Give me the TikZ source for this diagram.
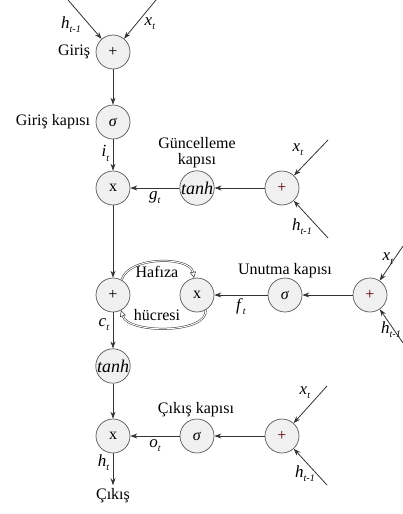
\documentclass[tikz,border=0pt]{standalone}
\usepackage{fontspec}
\setmainfont{Liberation Serif}
\usetikzlibrary{arrows.meta,positioning}

\newcommand{\sublab}[2]{{\fontsize{17}{18}\selectfont\textit{#1}}\raisebox{-0.55ex}{\fontsize{10}{10}\selectfont\textit{#2}}}

\begin{document}
\begin{tikzpicture}[x = 1pt, y = -1pt, font = \fontsize{16}{18}\selectfont,
  op/.style = {circle, draw = black!65, fill = black!6, line width = 0.7pt,
    minimum size = 34pt, inner sep = 0pt},
  sumop/.style = {op, text = red!35!black},
  flow/.style = {-{Stealth[length = 7pt, width = 5pt]}, draw = black!80, line width = 0.8pt},
  cellloop/.style = {-{Triangle[open, length = 6pt, width = 6pt]}, draw = black!80,
    double = white, double distance = 1pt, line width = 0.5pt}]
  \useasboundingbox (0,0) rectangle (403,514);
  % main column
  \node[op] (inplus) at (113,52) {+};
  \node[op] (ingate) at (113,122) {\textit{σ}};
  \node[op] (inmul) at (113,188) {x};
  \node[op] (cell) at (113,295) {+};
  \node[op, font = \fontsize{18}{18}\selectfont] (celltanh) at (113,366) {\textit{tanh}};
  \node[op] (outmul) at (113,436) {x};
  \node (out) at (113,496) {Çıkış};
  % gates
  \node[op, font = \fontsize{18}{18}\selectfont] (gtanh) at (197,188) {\textit{tanh}};
  \node[sumop] (gplus) at (282,188) {+};
  \node[op] (fmul) at (197,295) {x};
  \node[op] (fgate) at (285,295) {\textit{σ}};
  \node[sumop] (fplus) at (370,295) {+};
  \node[op] (ogate) at (197,436) {\textit{σ}};
  \node[sumop] (oplus) at (282,436) {+};
  % inputs
  \coordinate (inh) at (68,0);
  \coordinate (inx) at (156,0);
  \coordinate (gx) at (328,140);
  \coordinate (gh) at (328,238);
  \coordinate (fx) at (403,246);
  \coordinate (fh) at (403,343);
  \coordinate (ox) at (327,386);
  \coordinate (oh) at (327,485);
  \draw[flow] (inh) -- (inplus);
  \draw[flow] (inx) -- (inplus);
  \draw[flow] (gx) -- (gplus);
  \draw[flow] (gh) -- (gplus);
  \draw[flow] (fx) -- (fplus);
  \draw[flow] (fh) -- (fplus);
  \draw[flow] (ox) -- (oplus);
  \draw[flow] (oh) -- (oplus);
  \node at (71,25) {\sublab{h}{t-1}};
  \node at (150,24) {\sublab{x}{t}};
  \node at (298,150) {\sublab{x}{t}};
  \node at (302,227) {\sublab{h}{t-1}};
  \node at (388,259) {\sublab{x}{t}};
  \node at (391,330) {\sublab{h}{t-1}};
  \node at (305,393) {\sublab{x}{t}};
  \node at (305,474) {\sublab{h}{t-1}};
  % connections
  \draw[flow] (inplus) -- (ingate);
  \draw[flow] (ingate) -- node[left, pos = 0.45] {\sublab{i}{t}} (inmul);
  \draw[flow] (gplus) -- (gtanh);
  \draw[flow] (gtanh) -- node[below] {\sublab{g}{t}} (inmul);
  \draw[flow] (inmul) -- (cell);
  \draw[flow] (fplus) -- (fgate);
  \draw[flow] (fgate) -- node[below] {\sublab{f}{t}} (fmul);
  \draw[flow] (cell) -- node[left, pos = 0.35] {\sublab{c}{t}} (celltanh);
  \draw[flow] (celltanh) -- (outmul);
  \draw[flow] (oplus) -- (ogate);
  \draw[flow] (ogate) -- node[below] {\sublab{o}{t}} (outmul);
  \draw[flow] (outmul) -- node[left, pos = 0.3] {\sublab{h}{t}} (out);
  % memory cell
  \draw[cellloop] (cell.60) .. controls (128,256) and (190,256) .. (fmul.100);
  \draw[cellloop] (fmul.-60) .. controls (208,334) and (128,334) .. (cell.-62);
  \node at (157,272) {Hafıza};
  \node at (157,315) {hücresi};
  % gate names
  \node[left = 2pt of inplus] (inname) {Giriş};
  \node[left = 2pt of ingate] (ingatename) {Giriş kapısı};
  \node[align = center] (gname) at (197,153) {Güncelleme\\[-2pt]kapısı};
  \node (fname) at (285,271) {Unutma kapısı};
  \node (oname) at (196,410) {Çıkış kapısı};
\end{tikzpicture}
\end{document}
